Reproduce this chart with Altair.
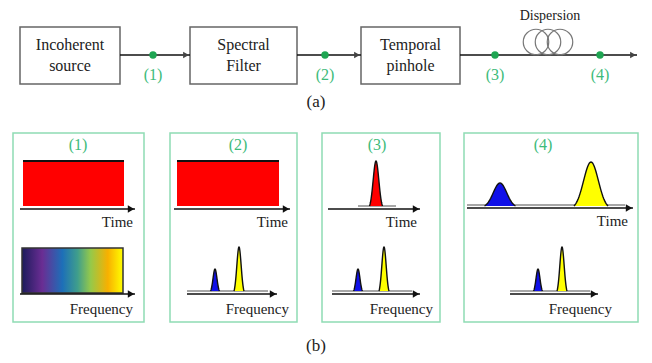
import altair as alt
import pandas as pd
import numpy as np

# ---------------- data (reference pixel coordinates) ----------------
# (a) block diagram
block_text = ["Incoherent\nsource", "Spectral\nFilter", "Temporal\npinhole"]
block_x = [20, 190, 361]
block_x2 = [120, 297, 460]
block_y = [27, 27, 27]
block_y2 = [84, 84, 84]
block_text_y = [45, 45, 45]

link_x = [120, 297, 460]
link_x2 = [190, 361, 637]
link_y = [55, 55, 55]

probe_labels = ["(1)", "(2)", "(3)", "(4)"]
probe_x = [153, 325, 495, 600]
probe_y = [55, 55, 55, 55]
probe_label_y = [75, 75, 75, 75]

coil_x = [536, 548, 560]
coil_y = [42, 42, 42]

caption_text = ["Dispersion", "(a)", "(b)"]
caption_x = [550, 316, 316]
caption_y = [16, 102, 346]
caption_size = [14, 17, 17]

# (b) panels
panel_labels = ["(1)", "(2)", "(3)", "(4)"]
panel_x = [13, 170, 322, 464]
panel_x2 = [144, 297, 440, 638]
panel_y = [133, 133, 133, 133]
panel_y2 = [322, 322, 322, 322]
panel_label_x = [78, 238, 377, 543]
panel_label_y = [145, 145, 145, 145]

time_axis_x = [20, 174, 328, 467]
time_axis_x2 = [135, 290, 420, 633]
time_axis_y = [209, 209, 209, 208]
time_text_x = [133, 288, 417, 628]
time_text_y = [222, 222, 222, 221]

freq_axis_x = [20, 187, 332, 510]
freq_axis_x2 = [135, 277, 420, 598]
freq_axis_y = [294, 294, 294, 294]
freq_text_x = [133, 289, 433, 612]
freq_text_y = [309, 309, 309, 309]

# gray baselines above the axes
base_x = [187, 332, 510, 358, 467]
base_x2 = [268, 412, 590, 396, 625]
base_y = [291, 291, 291, 206, 205]

# red continuous-wave blocks
red_x = [23, 177]
red_x2 = [124, 279]
red_y = [161, 161]
red_y2 = [206, 206]

# broadband spectrum block
spec_x = [22]
spec_x2 = [123]
spec_y = [248]
spec_y2 = [293]
spec_stops = ["#1c1c5c", "#6a2d93", "#1d6fb8", "#3f9e8c", "#95c94a", "#f8b000", "#ffff00"]
spec_offsets = [0.0, 0.2, 0.4, 0.55, 0.68, 0.85, 1.0]

# pulses: center, top, base, half-width at base, colour
peak_center = [215, 239, 376, 358, 384, 500, 591, 538, 562]
peak_top = [269, 247, 161, 269, 247, 183, 162, 269, 247]
peak_base = [291, 291, 206, 291, 291, 206, 206, 291, 291]
peak_halfwidth = [4.5, 5, 6.5, 4.5, 5, 15.5, 17, 4.5, 5]
peak_color = ["#1010e8", "#ffff00", "#ff0000", "#1010e8", "#ffff00",
              "#1010e8", "#ffff00", "#1010e8", "#ffff00"]

# ---------------- chart ----------------
W, H = 636, 347
xs = alt.Scale(domain=[8, 644], nice=False, zero=False)
ys = alt.Scale(domain=[8, 355], nice=False, zero=False, reverse=True)
FONT = "Liberation Serif, Times New Roman, Times, serif"
GREEN = "#3dbb7a"


def X(f):
    return alt.X(f, type="quantitative", scale=xs, axis=None)


def Y(f):
    return alt.Y(f, type="quantitative", scale=ys, axis=None)


panels = pd.DataFrame(dict(x=panel_x, x2=panel_x2, y=panel_y, y2=panel_y2))
panel_layer = alt.Chart(panels).mark_rect(fill="white", stroke="#8fdcb4", strokeWidth=1.5).encode(
    x=X("x"), x2="x2", y=Y("y"), y2="y2")

blocks = pd.DataFrame(dict(x=block_x, x2=block_x2, y=block_y, y2=block_y2,
                           t=block_text, tx=[(a + b) / 2 for a, b in zip(block_x, block_x2)],
                           ty=block_text_y))
block_layer = alt.Chart(blocks).mark_rect(fill="white", stroke="#666666", strokeWidth=1.5).encode(
    x=X("x"), x2="x2", y=Y("y"), y2="y2")
block_text_layer = alt.Chart(blocks).mark_text(
    font=FONT, fontSize=16, lineBreak="\n", lineHeight=21, baseline="middle", color="#222222"
).encode(x=X("tx"), y=Y("ty"), text="t:N")

# lines (links + axes)
lines = pd.DataFrame(dict(
    x=link_x + time_axis_x + freq_axis_x,
    x2=link_x2 + time_axis_x2 + freq_axis_x2,
    y=link_y + time_axis_y + freq_axis_y,
))
line_layer = alt.Chart(lines).mark_rule(color="#111111", strokeWidth=1.6).encode(
    x=X("x"), x2="x2", y=Y("y"))

bases = pd.DataFrame(dict(x=base_x, x2=base_x2, y=base_y))
base_layer = alt.Chart(bases).mark_rule(color="#8a8a8a", strokeWidth=1.6).encode(
    x=X("x"), x2="x2", y=Y("y"))

heads = pd.DataFrame(dict(
    x=[v - 4 for v in link_x2] + [v - 4 for v in time_axis_x2] + [v - 4 for v in freq_axis_x2],
    y=link_y + time_axis_y + freq_axis_y,
))
heads_link = heads.iloc[:3]
heads_axis = heads.iloc[3:]
head_link_layer = alt.Chart(heads_link).mark_point(
    shape="triangle-right", filled=True, size=45, color="#444444", opacity=1).encode(x=X("x"), y=Y("y"))
head_axis_layer = alt.Chart(heads_axis).mark_point(
    shape="triangle-right", filled=True, size=55, color="#111111", opacity=1).encode(x=X("x"), y=Y("y"))

reds = pd.DataFrame(dict(x=red_x, x2=red_x2, y=red_y, y2=red_y2))
red_layer = alt.Chart(reds).mark_rect(fill="#ff0000").encode(x=X("x"), x2="x2", y=Y("y"), y2="y2")
red_top_layer = alt.Chart(reds).mark_rule(color="#111111", strokeWidth=2).encode(
    x=X("x"), x2="x2", y=Y("y"))

spec = pd.DataFrame(dict(x=spec_x, x2=spec_x2, y=spec_y, y2=spec_y2))
grad = alt.LinearGradient(
    gradient="linear",
    stops=[alt.GradientStop(color=c, offset=o) for c, o in zip(spec_stops, spec_offsets)],
    x1=0, x2=1, y1=0, y2=0)
spec_layer = alt.Chart(spec).mark_rect(fill=grad, stroke="#333333", strokeWidth=1.5).encode(
    x=X("x"), x2="x2", y=Y("y"), y2="y2")

# pulse shapes (bell shapes built from centre/height/width)
rows = []
for i, (c, t, b, hw, col) in enumerate(zip(peak_center, peak_top, peak_base, peak_halfwidth, peak_color)):
    s = hw / 2.3
    edge = np.exp(-(hw ** 2) / (2 * s ** 2))
    for px in np.linspace(c - hw, c + hw, 41):
        g = (np.exp(-((px - c) ** 2) / (2 * s ** 2)) - edge) / (1 - edge)
        rows.append(dict(pid=f"p{i}", px=float(px), py=float(b - g * (b - t)), base=float(b), color=col))
peaks = pd.DataFrame(rows)
peak_fill_layer = alt.Chart(peaks).mark_area(opacity=1, orient="vertical").encode(
    x=X("px"), y=Y("py"), y2="base",
    color=alt.Color("color:N", scale=None), detail="pid:N")
peak_line_layer = alt.Chart(peaks).mark_line(color="#111111", strokeWidth=1.4).encode(
    x=X("px"), y=Y("py"), detail="pid:N")

# texts
texts_r = pd.DataFrame(dict(
    x=time_text_x + freq_text_x,
    y=time_text_y + freq_text_y,
    t=["Time"] * 4 + ["Frequency"] * 4))
axis_text_layer = alt.Chart(texts_r).mark_text(
    font=FONT, fontSize=15, align="right", baseline="middle", color="#222222").encode(
    x=X("x"), y=Y("y"), text="t:N")

green_texts = pd.DataFrame(dict(
    x=probe_x + panel_label_x,
    y=probe_label_y + panel_label_y,
    t=probe_labels + panel_labels))
green_text_layer = alt.Chart(green_texts).mark_text(
    font=FONT, fontSize=16, baseline="middle", color=GREEN).encode(
    x=X("x"), y=Y("y"), text="t:N")

caps = pd.DataFrame(dict(x=caption_x, y=caption_y, t=caption_text, s=caption_size))
cap_layer = alt.Chart(caps).mark_text(font=FONT, baseline="middle", color="#222222").encode(
    x=X("x"), y=Y("y"), text="t:N", size=alt.Size("s:Q", scale=None))

dots = pd.DataFrame(dict(x=probe_x, y=probe_y))
dot_layer = alt.Chart(dots).mark_circle(size=55, color="#1ea552", opacity=1).encode(x=X("x"), y=Y("y"))

coils = pd.DataFrame(dict(x=coil_x, y=coil_y))
coil_layer = alt.Chart(coils).mark_point(
    shape="circle", filled=False, size=650, color="#777777", strokeWidth=1.2, opacity=1).encode(
    x=X("x"), y=Y("y"))

chart = alt.layer(
    panel_layer, block_layer, block_text_layer,
    red_layer, spec_layer, base_layer, peak_fill_layer, peak_line_layer, line_layer, red_top_layer,
    head_link_layer, head_axis_layer,
    axis_text_layer, green_text_layer, cap_layer, coil_layer, dot_layer,
).properties(width=W, height=H, padding=0, autosize=alt.AutoSizeParams(type="none"), background="white"
).configure_view(strokeWidth=0)

chart.save("out.html", embed_options={"renderer": "svg", "actions": False})
